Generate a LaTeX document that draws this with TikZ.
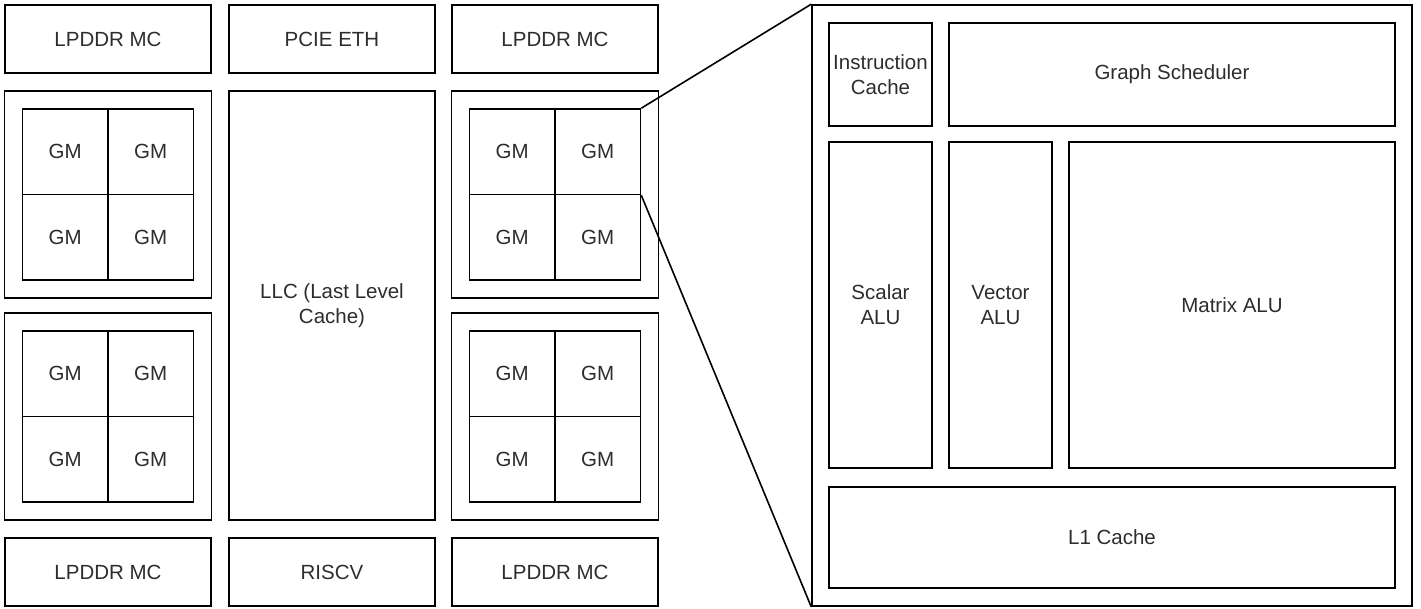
\documentclass[tikz,border=0pt]{standalone}
\usepackage{fontspec}
\setmainfont{Liberation Sans}
\definecolor{txt}{RGB}{45,45,45}
\begin{document}
\begin{tikzpicture}[x=1pt,y=-1pt,
  box/.style={draw=black,line width=1.6pt,rectangle,inner sep=0pt,align=center,
    text=txt,font=\fontsize{20.5}{25}\selectfont},
  gm/.style={box,minimum width=85.5pt,minimum height=85.5pt},
  link/.style={draw=black,line width=1.6pt}]
\useasboundingbox (0,0) rectangle (1421,609);
% top row
\node[box,minimum width=206pt,minimum height=68pt] (lp1) at (108,39) {LPDDR MC};
\node[box,minimum width=206pt,minimum height=68pt] (pcie) at (332,39) {PCIE ETH};
\node[box,minimum width=206pt,minimum height=68pt] (lp2) at (555,39) {LPDDR MC};
% bottom row
\node[box,minimum width=206pt,minimum height=68pt] (lp3) at (108,572) {LPDDR MC};
\node[box,minimum width=206pt,minimum height=68pt] (riscv) at (332,572) {RISCV};
\node[box,minimum width=206pt,minimum height=68pt] (lp4) at (555,572) {LPDDR MC};
% LLC
\node[box,minimum width=206pt,minimum height=429pt] (llc) at (332,305.5) {LLC (Last Level\\Cache)};
% GM groups
\foreach \n/\cx/\cy in {1/108/194.5,2/108/416.5,3/555/194.5,4/555/416.5}{
  \node[box,minimum width=207pt,minimum height=207pt] (o\n) at (\cx,\cy) {};
  \node[gm] (g\n a) at (\cx-42.75,\cy-42.75) {GM};
  \node[gm] (g\n b) at (\cx+42.75,\cy-42.75) {GM};
  \node[gm] (g\n c) at (\cx-42.75,\cy+42.75) {GM};
  \node[gm] (g\n d) at (\cx+42.75,\cy+42.75) {GM};
}
% detail
\node[box,minimum width=600pt,minimum height=601pt] (big) at (1112,305.5) {};
\node[box,minimum width=103pt,minimum height=103pt] (ic) at (880.5,74.5) {Instruction\\Cache};
\node[box,minimum width=446pt,minimum height=103pt] (gs) at (1172,74.5) {Graph Scheduler};
\node[box,minimum width=103pt,minimum height=326pt] (sc) at (880.5,305) {Scalar\\ALU};
\node[box,minimum width=103pt,minimum height=326pt] (vc) at (1000.5,305) {Vector\\ALU};
\node[box,minimum width=326pt,minimum height=326pt] (mx) at (1232,305) {Matrix ALU};
\node[box,minimum width=566pt,minimum height=101pt] (l1) at (1112,537.5) {L1 Cache};
% zoom lines
\draw[link] (g3b.north east) -- (big.north west);
\draw[link] (g3b.south east) -- (big.south west);
\end{tikzpicture}
\end{document}
